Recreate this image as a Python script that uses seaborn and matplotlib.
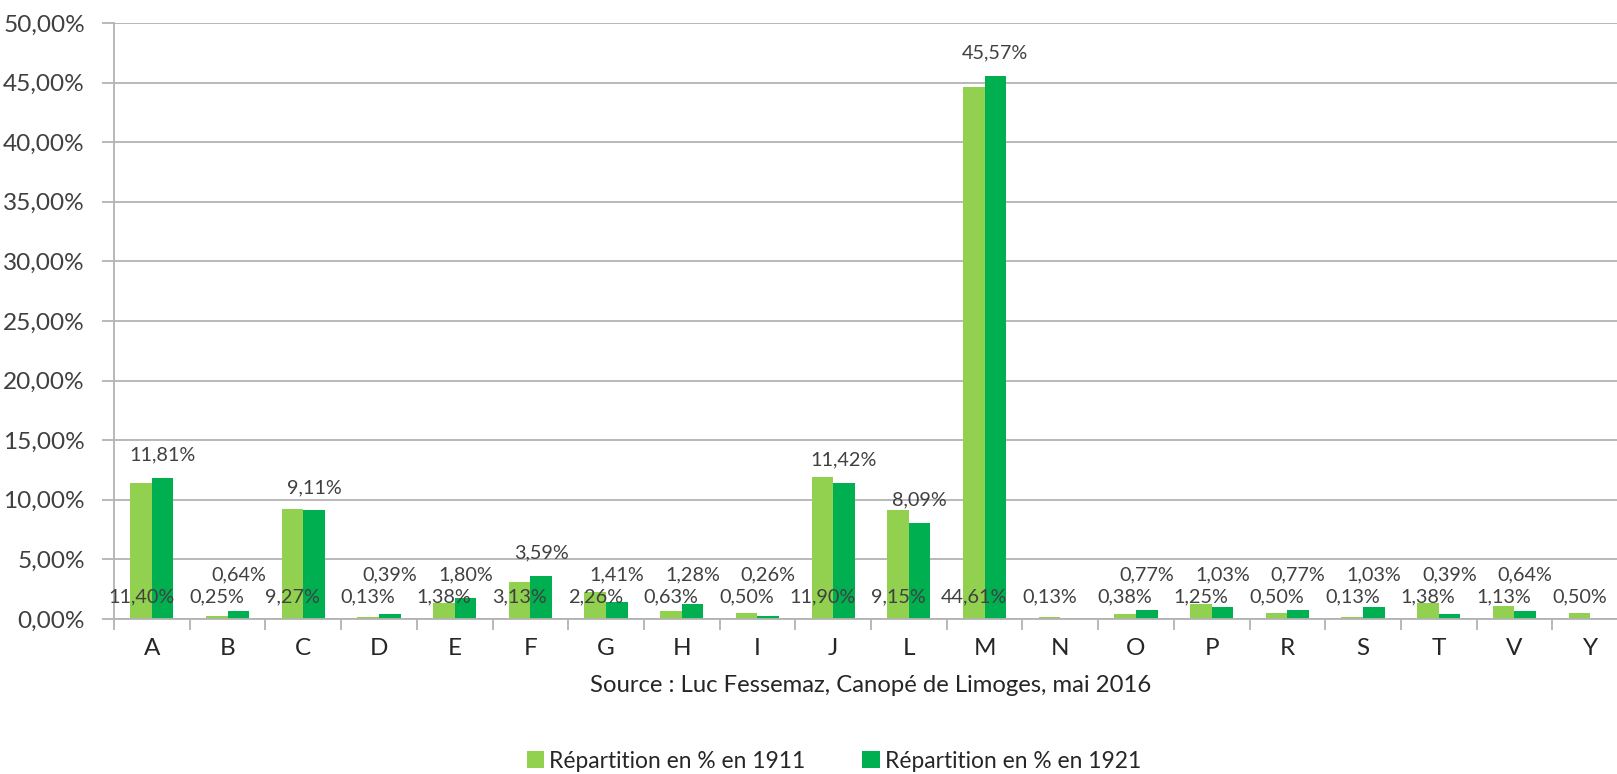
import numpy as np
import pandas as pd
import matplotlib
matplotlib.use("Agg")
import matplotlib.pyplot as plt
from matplotlib.patches import Patch
from matplotlib.ticker import FuncFormatter
import seaborn as sns

# Données
lettres = ['A', 'B', 'C', 'D', 'E', 'F', 'G', 'H', 'I', 'J',
           'L', 'M', 'N', 'O', 'P', 'R', 'S', 'T', 'V', 'Y']
rep_1911 = [11.40, 0.25, 9.27, 0.13, 1.38, 3.13, 2.26, 0.63, 0.50, 11.90,
            9.15, 44.61, 0.13, 0.38, 1.25, 0.50, 0.13, 1.38, 1.13, 0.50]
rep_1921 = [11.81, 0.64, 9.11, 0.39, 1.80, 3.59, 1.41, 1.28, 0.26, 11.42,
            8.09, 45.57, np.nan, 0.77, 1.03, 0.77, 1.03, 0.39, 0.64, np.nan]
series = ['Répartition en % en 1911', 'Répartition en % en 1921']
couleurs = ['#92D050', '#00B050']

df = pd.DataFrame({
    'lettre': lettres * 2,
    'valeur': rep_1911 + rep_1921,
    'serie': [series[0]] * len(lettres) + [series[1]] * len(lettres),
})

sns.set_theme(style='white')
plt.rcParams['font.family'] = ['Lato', 'DejaVu Sans']
gris_txt = '#404040'
gris_axe = '#B3B3B3'

fig = plt.figure(figsize=(16.17, 7.74), dpi=100)
ax = fig.add_axes([114 / 1617, 155 / 774, 1514 / 1617, 596 / 774])

sns.barplot(data=df, x='lettre', y='valeur', hue='serie', palette=couleurs,
            width=0.57, saturation=1, errorbar=None, legend=False, ax=ax,
            linewidth=0)

def fmt(v):
    return f"{v:.2f}".replace('.', ',') + '%'

# étiquettes : 1911 en bas, 1921 au-dessus des barres
# (les barres NaN sont absentes, on retrouve l'indice par la position)
for bar in ax.containers[0]:
    xc = bar.get_x() + bar.get_width() / 2
    v = rep_1911[int(round(xc))]
    ax.text(xc, 1.85, fmt(v), ha='center', va='center', fontsize=14.3, color=gris_txt)
for bar in ax.containers[1]:
    xc = bar.get_x() + bar.get_width() / 2
    v = rep_1921[int(round(xc))]
    if np.isnan(v):
        continue
    ax.text(xc, max(v + 1.93, 3.7), fmt(v), ha='center', va='center',
            fontsize=14.3, color=gris_txt)

ax.set_ylim(0, 50)
ax.set_yticks(np.arange(0, 51, 5))
ax.yaxis.set_major_formatter(FuncFormatter(lambda y, _: fmt(y)))
ax.set_xlim(-0.5, len(lettres) - 0.5)
ax.set_xticks(np.arange(-0.5, len(lettres), 1), minor=True)

ax.yaxis.grid(True, color=gris_axe, linewidth=1.3)
ax.set_axisbelow(True)
for s in ['top', 'right']:
    ax.spines[s].set_visible(False)
for s in ['left', 'bottom']:
    ax.spines[s].set_color(gris_axe)
    ax.spines[s].set_linewidth(1.3)

ax.tick_params(axis='y', left=True, length=9, width=1.3, color=gris_axe,
               pad=12, labelsize=17.6, labelcolor=gris_txt)
ax.tick_params(axis='x', which='major', bottom=True, length=0, pad=14,
               labelsize=17.5, labelcolor='#262626')
ax.tick_params(axis='x', which='minor', bottom=True, length=8, width=1.3,
               color=gris_axe)
ax.set_xlabel('')
ax.set_ylabel('')

fig.text((114 + 1628) / 2 / 1617, 1 - 685 / 774,
         'Source : Luc Fessemaz, Canopé de Limoges, mai 2016',
         ha='center', va='center', fontsize=17.2, color='#262626')

poignees = [Patch(facecolor=c, edgecolor='none') for c in couleurs]
fig.legend(poignees, series, loc='center', bbox_to_anchor=(834 / 1617, 1 - 761 / 774),
           ncol=2, frameon=False, fontsize=16.4, handlelength=0.75, handleheight=0.75,
           handletextpad=0.25, columnspacing=2.5, labelcolor='#262626')

fig.savefig('out.png', dpi=100)
